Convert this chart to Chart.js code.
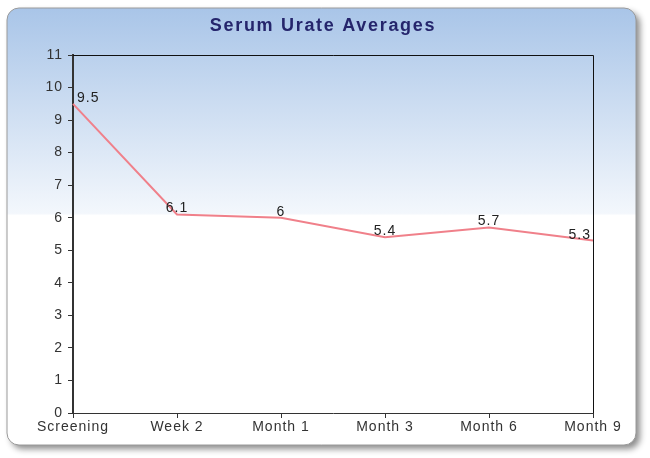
<!DOCTYPE html>
<html lang="en">
  <head>
    <meta charset="UTF-8" />
    <title>Serum Urate Averages</title>
    <script src="https://cdn.jsdelivr.net/npm/chart.js"></script>
    <style>
      html, body { margin: 0; padding: 0; background: #ffffff; }
      #wrap { width: 650px; height: 458px; position: relative; }
    </style>
  </head>
  <body>
    <div id="wrap"><canvas id="urate-chart"></canvas></div>

    <script>
      // chart data
      const visits = ["Screening", "Week 2", "Month 1", "Month 3", "Month 6", "Month 9"];
      const urateAvg = [9.5, 6.1, 6, 5.4, 5.7, 5.3];
      const yTicks = [0, 1, 2, 3, 4, 5, 6, 7, 8, 9, 10, 11];
      const chartTitle = "Serum Urate Averages";

      const FONT = "'Liberation Sans', Arial, sans-serif";

      // the original text is a bit loosely spaced, so widen every glyph run
      const spacing = {
        id: "spacing",
        beforeLayout(chart) { chart.ctx.letterSpacing = "1px"; },
        beforeDraw(chart) { chart.ctx.letterSpacing = "1px"; },
      };

      // rounded panel with blue gradient + drop shadow, title on top
      const panelPlugin = {
        id: "panel",
        beforeDraw(chart) {
          const ctx = chart.ctx;
          const x = 7, y = 8, w = 629, h = 437, r = 12;
          ctx.save();
          ctx.beginPath();
          ctx.roundRect(x, y, w, h, r);
          ctx.shadowColor = "rgba(0,0,0,0.45)";
          ctx.shadowOffsetX = 4;
          ctx.shadowOffsetY = 4;
          ctx.shadowBlur = 6;
          const g = ctx.createLinearGradient(0, y, 0, y + h);
          g.addColorStop(0, "#a9c5e8");
          g.addColorStop(0.47, "#f3f7fc");
          g.addColorStop(0.475, "#ffffff");
          g.addColorStop(1, "#ffffff");
          ctx.fillStyle = g;
          ctx.fill();
          ctx.shadowColor = "transparent";
          ctx.lineWidth = 1;
          ctx.strokeStyle = "#9a9a9a";
          ctx.stroke();

          // title centred over the whole panel
          ctx.letterSpacing = "1.7px";
          ctx.font = "bold 18px " + FONT;
          ctx.fillStyle = "#25256c";
          ctx.textAlign = "center";
          ctx.textBaseline = "alphabetic";
          ctx.fillText(chartTitle, 323, 31);
          ctx.restore();
        },
        afterDraw(chart) {
          // thin top and right borders of the plot area
          const { ctx, chartArea: a } = chart;
          ctx.save();
          ctx.strokeStyle = "#111";
          ctx.lineWidth = 1;
          ctx.beginPath();
          ctx.moveTo(a.left, a.top + 0.5);
          ctx.lineTo(a.right + 0.5, a.top + 0.5);
          ctx.lineTo(a.right + 0.5, a.bottom);
          ctx.stroke();
          ctx.restore();
        },
      };

      // value labels above each point, kept inside the plot area
      const valueLabels = {
        id: "valueLabels",
        afterDatasetsDraw(chart) {
          const { ctx, chartArea: a } = chart;
          const meta = chart.getDatasetMeta(0);
          ctx.save();
          ctx.font = "14px " + FONT;
          ctx.fillStyle = "#222";
          ctx.textBaseline = "alphabetic";
          meta.data.forEach((pt, i) => {
            const txt = String(urateAvg[i]);
            const w = ctx.measureText(txt).width;
            let left = pt.x - w / 2;
            left = Math.max(a.left + 4, Math.min(left, a.right - 2 - w));
            ctx.fillText(txt, left, pt.y - 2);
          });
          ctx.restore();
        },
      };

      new Chart(document.getElementById("urate-chart"), {
        type: "line",
        data: {
          labels: visits,
          datasets: [
            {
              data: urateAvg,
              borderColor: "#f0808a",
              borderWidth: 2,
              pointRadius: 0,
              tension: 0,
              fill: false,
            },
          ],
        },
        options: {
          responsive: true,
          maintainAspectRatio: false,
          animation: false,
          layout: { padding: { left: 10, right: 57, top: 55, bottom: 13 } },
          plugins: {
            legend: { display: false },
            tooltip: { enabled: false },
            title: { display: false },
          },
          scales: {
            x: {
              offset: false,
              grid: {
                drawOnChartArea: false,
                drawTicks: true,
                tickLength: 5,
                color: "#333",
              },
              border: { color: "#333", width: 1 },
              ticks: {
                color: "#333",
                font: { family: FONT, size: 14 },
                padding: 1,
                maxRotation: 0,
                autoSkip: false,
              },
              afterFit(scale) { scale.height = 32; },
            },
            y: {
              min: 0,
              max: 11,
              afterBuildTicks(scale) {
                scale.ticks = yTicks.map((v) => ({ value: v }));
              },
              grid: {
                drawOnChartArea: false,
                drawTicks: true,
                tickLength: 5,
                color: "#333",
              },
              border: { color: "#333", width: 2 },
              ticks: {
                color: "#333",
                font: { family: FONT, size: 14 },
                padding: 5,
              },
              afterFit(scale) { scale.width = 63; },
            },
          },
        },
        plugins: [spacing, panelPlugin, valueLabels],
      });
    </script>
  </body>
</html>
